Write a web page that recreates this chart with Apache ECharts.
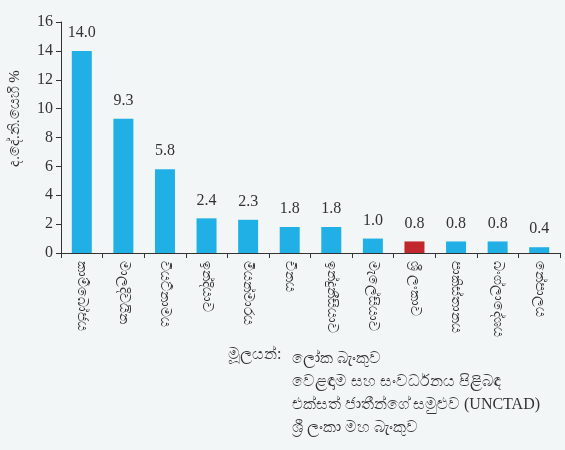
<!DOCTYPE html>
<html>
<head>
<meta charset="utf-8">
<script src="https://cdn.jsdelivr.net/npm/echarts@6/dist/echarts.min.js"></script>
<style>
  html, body { margin: 0; padding: 0; background: #f3f6f6; }
  #main { width: 565px; height: 450px; }
</style>
</head>
<body>
<div id="main"></div>
<script>
// රටවල් සහ අගයන්
var countries = ['කාම්බෝජය', 'මාලදිවයින', 'වියට්නාමය', 'ඉන්දියාව', 'මියන්මාරය', 'චීනය',
  'ඉන්දුනීසියාව', 'මැලේසියාව', 'ශ්‍රී ලංකාව', 'පාකිස්තානය', 'බංග්ලාදේශය', 'නේපාලය']
var fdiShare = [14.0, 9.3, 5.8, 2.4, 2.3, 1.8, 1.8, 1.0, 0.8, 0.8, 0.8, 0.4]
var highlight = 'ශ්‍රී ලංකාව'
var yTicks = [0, 2, 4, 6, 8, 10, 12, 14, 16]
var sourceLines = ['ලෝක බැංකුව', 'වෙළඳාම සහ සංවර්ධනය පිළිබඳ', 'එක්සත් ජාතීන්ගේ සමුළුව (UNCTAD)', 'ශ්‍රී ලංකා මහ බැංකුව']

var serif = '"Liberation Serif", "Times New Roman", serif'
var chart = echarts.init(document.getElementById('main'))

var option = {
  backgroundColor: '#f3f6f6',
  textStyle: { fontFamily: serif, color: '#333' },
  grid: { left: 58, right: 5, top: 22, height: 231, containLabel: false },
  xAxis: {
    type: 'category',
    data: countries,
    axisLine: { lineStyle: { color: '#333', width: 1 } },
    axisTick: { show: true, length: 5, lineStyle: { color: '#333' } },
    axisLabel: { rotate: -90, interval: 0, fontSize: 14, color: '#333', margin: 8, fontFamily: serif }
  },
  yAxis: {
    type: 'value',
    min: yTicks[0],
    max: yTicks[yTicks.length - 1],
    interval: 2,
    name: 'ද.දේ.නි.යෙහි %',
    nameLocation: 'middle',
    nameGap: 38,
    nameTextStyle: { fontSize: 15, color: '#333', fontFamily: serif, padding: [0, 0, 0, 38] },
    axisLine: { show: true, lineStyle: { color: '#333' } },
    axisTick: { show: true, length: 5, lineStyle: { color: '#333' } },
    axisLabel: { fontSize: 16, color: '#333', margin: 8, fontFamily: serif },
    splitLine: { show: false }
  },
  series: [
    {
      type: 'bar',
      barWidth: 20,
      data: fdiShare.map(function(v, i) {
        return {
          value: v,
          itemStyle: { color: countries[i] === highlight ? '#c1272d' : '#21b0e6' }
        }
      }),
      label: {
        show: true,
        position: 'top',
        distance: 10,
        fontSize: 16,
        color: '#333',
        fontFamily: serif,
        formatter: function(p) { return p.value.toFixed(1) }
      }
    }
  ],
  graphic: [
    {
      type: 'text',
      left: 228,
      top: 347,
      style: { text: 'මූලයන්:', fontSize: 16, fill: '#333', fontFamily: serif }
    },
    {
      type: 'text',
      left: 292,
      top: 347,
      style: { text: sourceLines.join('\n'), fontSize: 16, lineHeight: 23, fill: '#333', fontFamily: serif }
    }
  ]
}

chart.setOption(option)
</script>
</body>
</html>
